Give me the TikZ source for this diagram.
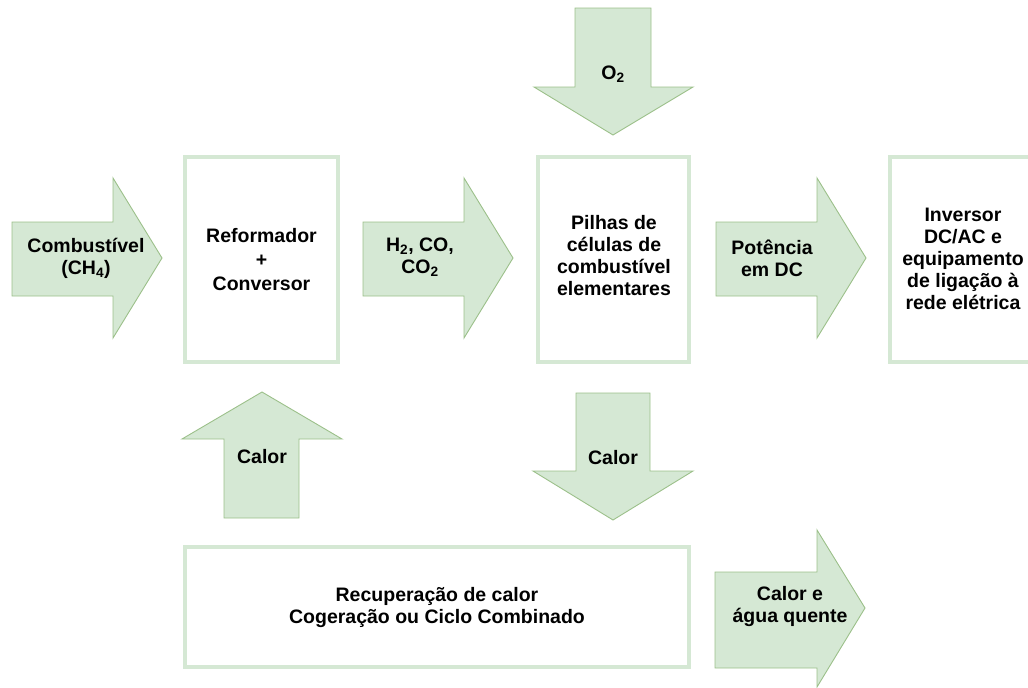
\documentclass[tikz,border=0pt]{standalone}
\usepackage{fontspec}
\setmainfont{Liberation Sans}
\definecolor{flowfill}{HTML}{D5E8D4}
\definecolor{flowline}{HTML}{9CC08A}
\definecolor{unitline}{HTML}{D5E8D4}
\begin{document}
\begin{tikzpicture}[x=1pt,y=-1pt,
  flow/.style={fill=flowfill,draw=flowline,line width=0.9pt,line join=miter},
  unit/.style={draw=unitline,line width=3.5pt,fill=white,inner sep=0pt},
  lbl/.style={font=\bfseries\fontsize{19.5}{22}\selectfont,align=center,inner sep=0pt,text=black}]
\useasboundingbox (0,0) rectangle (1028,688);

% process blocks
\node[unit,minimum width=153pt,minimum height=205pt] (reform) at (261.5,259.5) {};
\node[unit,minimum width=151pt,minimum height=205pt] (stack) at (613.5,259.5) {};
\node[unit,minimum width=504pt,minimum height=120pt] (recov) at (437,607) {};
\begin{scope}
  \clip (0,0) rectangle (1028,688);
  \node[unit,minimum width=153pt,minimum height=205pt] (inverter) at (966.5,259.5) {};
\end{scope}

% horizontal flow arrows
\draw[flow] (12,222) -- (113,222) -- (113,178) -- (162,258) -- (113,338) -- (113,296) -- (12,296) -- cycle;
\draw[flow] (363,222) -- (464,222) -- (464,178) -- (513,258) -- (464,338) -- (464,296) -- (363,296) -- cycle;
\draw[flow] (716,222) -- (817,222) -- (817,178) -- (866,258) -- (817,338) -- (817,296) -- (716,296) -- cycle;
\draw[flow] (715,572) -- (817,572) -- (817,530) -- (865,608) -- (817,687) -- (817,668) -- (715,668) -- cycle;

% vertical flow arrows
\draw[flow] (575,8) -- (651,8) -- (651,87) -- (693,87) -- (613,135) -- (534,87) -- (575,87) -- cycle;
\draw[flow] (576,393) -- (650,393) -- (650,471) -- (693,471) -- (613,520) -- (533,471) -- (576,471) -- cycle;
\draw[flow] (224,518) -- (299,518) -- (299,439) -- (342,439) -- (262,392) -- (182,439) -- (224,439) -- cycle;

% labels
\node[lbl] (fuel) at (86,258) {Combustível\\(CH\textsubscript{4})};
\node[lbl,font=\bfseries\fontsize{19.5}{24}\selectfont] (reformtxt) at (reform) {Reformador\\+\\Conversor};
\node[lbl] (gas) at (420,257) {H\textsubscript{2}, CO,\\CO\textsubscript{2}};
\node[lbl] (stacktxt) at (614,256) {Pilhas de\\células de\\combustível\\elementares};
\node[lbl] (power) at (772,258) {Potência\\em DC};
\node[lbl] (invtxt) at (963,259) {Inversor\\DC/AC e\\equipamento\\de ligação à\\rede elétrica};
\node[lbl] (oxygen) at (613,74) {O\textsubscript{2}};
\node[lbl] (heatup) at (262,457) {Calor};
\node[lbl] (heatdown) at (613,458) {Calor};
\node[lbl] (recovtxt) at (recov) {Recuperação de calor\\Cogeração ou Ciclo Combinado};
\node[lbl] (hotwater) at (790,606) {Calor e\\água quente};
\end{tikzpicture}
\end{document}
